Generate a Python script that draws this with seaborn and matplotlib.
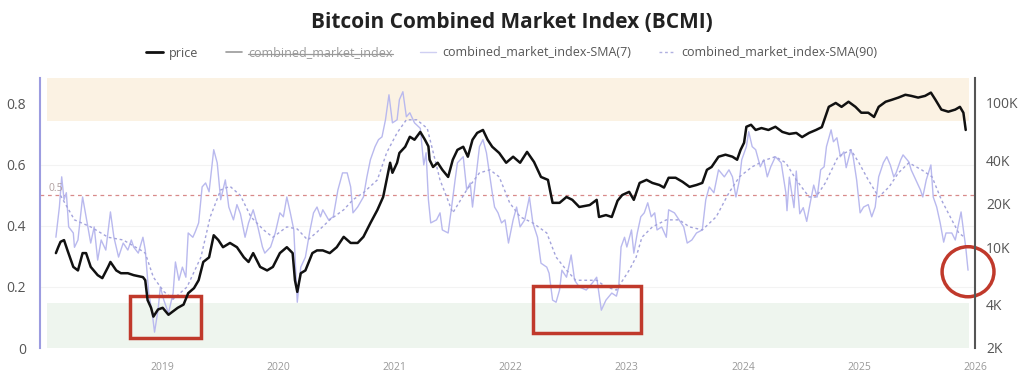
import matplotlib
matplotlib.use("Agg")
import matplotlib.pyplot as plt
import seaborn as sns
import pandas as pd
from matplotlib.patches import Rectangle, Ellipse
from matplotlib.lines import Line2D

# dados (anos decimais)
price_year = [2018.08, 2018.10, 2018.12, 2018.15, 2018.18, 2018.23, 2018.27, 2018.31, 2018.34, 2018.38,
              2018.44, 2018.48, 2018.53, 2018.55, 2018.60, 2018.64, 2018.70, 2018.75, 2018.83, 2018.85,
              2018.87, 2018.90, 2018.92, 2018.96, 2019.00, 2019.05, 2019.13, 2019.18, 2019.22, 2019.27,
              2019.31, 2019.35, 2019.40, 2019.44, 2019.48, 2019.52, 2019.58, 2019.64, 2019.70, 2019.74,
              2019.78, 2019.84, 2019.90, 2019.95, 2020.01, 2020.07, 2020.12, 2020.14, 2020.16, 2020.19,
              2020.23, 2020.29, 2020.33, 2020.38, 2020.44, 2020.50, 2020.56, 2020.62, 2020.68, 2020.73,
              2020.79, 2020.85, 2020.90, 2020.93, 2020.96, 2020.98, 2021.02, 2021.04, 2021.09, 2021.13,
              2021.17, 2021.22, 2021.26, 2021.29, 2021.30, 2021.33, 2021.37, 2021.41, 2021.46, 2021.50,
              2021.54, 2021.59, 2021.63, 2021.67, 2021.71, 2021.76, 2021.80, 2021.84, 2021.90, 2021.96,
              2022.02, 2022.08, 2022.14, 2022.20, 2022.26, 2022.32, 2022.36, 2022.42, 2022.48, 2022.53,
              2022.59, 2022.68, 2022.74, 2022.76, 2022.82, 2022.87, 2022.92, 2022.96, 2023.02, 2023.06,
              2023.11, 2023.17, 2023.22, 2023.28, 2023.32, 2023.36, 2023.42, 2023.48, 2023.54, 2023.60,
              2023.65, 2023.69, 2023.73, 2023.79, 2023.85, 2023.91, 2023.95, 2023.98, 2024.01, 2024.03,
              2024.07, 2024.11, 2024.16, 2024.22, 2024.28, 2024.34, 2024.40, 2024.46, 2024.51, 2024.57,
              2024.63, 2024.68, 2024.71, 2024.74, 2024.80, 2024.85, 2024.91, 2024.97, 2025.02, 2025.08,
              2025.13, 2025.17, 2025.23, 2025.28, 2025.34, 2025.40, 2025.45, 2025.51, 2025.57, 2025.62,
              2025.66, 2025.71, 2025.77, 2025.83, 2025.87, 2025.90, 2025.92]
price = [9100, 10000, 10900, 11200, 9500, 7300, 6900, 9100, 9100, 7300,
         6400, 6100, 7300, 7900, 6900, 6600, 6600, 6400, 6200, 5900,
         4300, 3800, 3300, 3700, 3800, 3400, 3800, 4000, 4800, 5200,
         5900, 7900, 8500, 12100, 11200, 10000, 10700, 10000, 8500, 7900,
         9100, 7300, 6900, 7300, 9100, 10000, 9100, 5900, 4900, 6600,
         6900, 9100, 9500, 9500, 9100, 10000, 11800, 10700, 10700, 11800,
         14700, 18100, 22300, 29300, 38500, 32800, 38500, 45000, 49700, 58300,
         55600, 63000, 55600, 50000, 40400, 36000, 38500, 34400, 30700, 40400,
         47300, 49700, 42400, 55600, 62000, 65000, 55600, 49700, 45000, 38500,
         42400, 38500, 45800, 39000, 30700, 29300, 20300, 20300, 22300, 21300,
         19000, 19600, 21300, 16200, 16700, 16200, 21000, 23000, 24200, 21300,
         27900, 29300, 27900, 27000, 25900, 30300, 30300, 28400, 26200, 27000,
         27900, 34400, 36000, 42400, 43800, 42400, 40400, 47300, 53000, 68400,
         70600, 65000, 67000, 65000, 68400, 63000, 61000, 62000, 58000, 62000,
         65000, 68000, 80000, 94000, 100000, 94000, 102000, 94000, 85600, 85600,
         80000, 94000, 102000, 105000, 109000, 114000, 112000, 109000, 112000, 118000,
         105000, 90000, 87000, 90000, 94000, 85600, 65000]

sma7_year = [2018.08, 2018.11, 2018.13, 2018.15, 2018.17, 2018.19, 2018.23, 2018.24, 2018.27, 2018.31,
             2018.34, 2018.38, 2018.41, 2018.44, 2018.47, 2018.51, 2018.55, 2018.58, 2018.62, 2018.66,
             2018.70, 2018.73, 2018.75, 2018.79, 2018.83, 2018.85, 2018.88, 2018.91, 2018.93, 2018.96,
             2018.98, 2019.01, 2019.05, 2019.09, 2019.11, 2019.14, 2019.17, 2019.20, 2019.22, 2019.26,
             2019.28, 2019.31, 2019.34, 2019.37, 2019.40, 2019.44, 2019.47, 2019.50, 2019.54, 2019.57,
             2019.61, 2019.64, 2019.67, 2019.71, 2019.74, 2019.78, 2019.82, 2019.86, 2019.88, 2019.93,
             2019.97, 2020.01, 2020.04, 2020.07, 2020.10, 2020.13, 2020.16, 2020.19, 2020.23, 2020.27,
             2020.30, 2020.33, 2020.36, 2020.38, 2020.43, 2020.47, 2020.51, 2020.55, 2020.59, 2020.62,
             2020.64, 2020.68, 2020.73, 2020.76, 2020.79, 2020.83, 2020.86, 2020.89, 2020.92, 2020.95,
             2020.98, 2021.02, 2021.04, 2021.07, 2021.10, 2021.13, 2021.17, 2021.22, 2021.25, 2021.27,
             2021.29, 2021.31, 2021.36, 2021.39, 2021.41, 2021.46, 2021.49, 2021.52, 2021.54, 2021.59,
             2021.62, 2021.65, 2021.67, 2021.71, 2021.73, 2021.76, 2021.79, 2021.84, 2021.86, 2021.89,
             2021.92, 2021.95, 2021.98, 2022.02, 2022.05, 2022.08, 2022.12, 2022.16, 2022.19, 2022.23,
             2022.26, 2022.31, 2022.33, 2022.36, 2022.39, 2022.42, 2022.44, 2022.48, 2022.52, 2022.55,
             2022.59, 2022.65, 2022.70, 2022.74, 2022.78, 2022.82, 2022.87, 2022.91, 2022.93, 2022.95,
             2022.98, 2023.00, 2023.04, 2023.06, 2023.09, 2023.12, 2023.15, 2023.18, 2023.21, 2023.24,
             2023.26, 2023.30, 2023.34, 2023.36, 2023.41, 2023.45, 2023.49, 2023.52, 2023.56, 2023.60,
             2023.65, 2023.68, 2023.71, 2023.75, 2023.79, 2023.84, 2023.88, 2023.91, 2023.94, 2023.97,
             2023.99, 2024.03, 2024.05, 2024.08, 2024.11, 2024.15, 2024.18, 2024.21, 2024.24, 2024.28,
             2024.33, 2024.37, 2024.38, 2024.40, 2024.44, 2024.46, 2024.49, 2024.52, 2024.55, 2024.58,
             2024.61, 2024.64, 2024.67, 2024.70, 2024.72, 2024.76, 2024.78, 2024.81, 2024.84, 2024.87,
             2024.89, 2024.93, 2024.95, 2024.98, 2025.01, 2025.04, 2025.08, 2025.11, 2025.14, 2025.17,
             2025.21, 2025.24, 2025.27, 2025.30, 2025.32, 2025.36, 2025.38, 2025.43, 2025.45, 2025.49,
             2025.53, 2025.55, 2025.58, 2025.62, 2025.64, 2025.67, 2025.70, 2025.73, 2025.75, 2025.80,
             2025.83, 2025.86, 2025.88, 2025.90, 2025.92, 2025.94]
sma7 = [0.363, 0.462, 0.561, 0.486, 0.509, 0.397, 0.377, 0.33, 0.354, 0.495,
        0.430, 0.344, 0.397, 0.288, 0.354, 0.321, 0.446, 0.363, 0.298, 0.344,
        0.321, 0.354, 0.331, 0.311, 0.363, 0.321, 0.180, 0.114, 0.052, 0.124,
        0.200, 0.157, 0.114, 0.180, 0.282, 0.222, 0.265, 0.232, 0.377, 0.363,
        0.380, 0.410, 0.528, 0.541, 0.512, 0.650, 0.607, 0.486, 0.551, 0.462,
        0.420, 0.470, 0.440, 0.363, 0.410, 0.453, 0.397, 0.331, 0.311, 0.331,
        0.377, 0.443, 0.430, 0.495, 0.443, 0.387, 0.150, 0.265, 0.298, 0.387,
        0.443, 0.462, 0.430, 0.453, 0.420, 0.430, 0.518, 0.574, 0.574, 0.528,
        0.443, 0.462, 0.495, 0.561, 0.617, 0.660, 0.683, 0.692, 0.748, 0.830,
        0.738, 0.748, 0.814, 0.840, 0.758, 0.771, 0.738, 0.720, 0.600, 0.640,
        0.486, 0.410, 0.420, 0.443, 0.387, 0.377, 0.462, 0.551, 0.607, 0.627,
        0.518, 0.541, 0.462, 0.594, 0.660, 0.683, 0.640, 0.509, 0.462, 0.443,
        0.410, 0.420, 0.344, 0.420, 0.462, 0.397, 0.420, 0.495, 0.410, 0.363,
        0.278, 0.265, 0.245, 0.157, 0.150, 0.190, 0.255, 0.232, 0.305, 0.222,
        0.200, 0.190, 0.212, 0.232, 0.124, 0.157, 0.180, 0.170, 0.200, 0.331,
        0.363, 0.331, 0.387, 0.311, 0.377, 0.430, 0.443, 0.476, 0.430, 0.443,
        0.387, 0.397, 0.363, 0.453, 0.443, 0.420, 0.397, 0.344, 0.354, 0.377,
        0.387, 0.486, 0.528, 0.509, 0.584, 0.561, 0.584, 0.561, 0.495, 0.551,
        0.617, 0.660, 0.709, 0.660, 0.650, 0.594, 0.617, 0.561, 0.594, 0.627,
        0.607, 0.509, 0.450, 0.560, 0.460, 0.580, 0.440, 0.460, 0.415, 0.476,
        0.534, 0.495, 0.584, 0.594, 0.660, 0.715, 0.676, 0.689, 0.627, 0.643,
        0.591, 0.650, 0.627, 0.551, 0.443, 0.462, 0.470, 0.430, 0.462, 0.561,
        0.607, 0.627, 0.600, 0.561, 0.574, 0.617, 0.633, 0.610, 0.584, 0.551,
        0.518, 0.495, 0.551, 0.600, 0.495, 0.462, 0.410, 0.347, 0.377, 0.377,
        0.354, 0.410, 0.446, 0.387, 0.331, 0.255]

sma90_year = [2018.12, 2018.24, 2018.38, 2018.53, 2018.66, 2018.81, 2018.85, 2018.92, 2019.01, 2019.09,
              2019.21, 2019.33, 2019.41, 2019.50, 2019.58, 2019.67, 2019.76, 2019.87, 2019.95, 2020.07,
              2020.16, 2020.25, 2020.33, 2020.44, 2020.56, 2020.64, 2020.73, 2020.85, 2020.93, 2021.02,
              2021.10, 2021.19, 2021.28, 2021.39, 2021.50, 2021.62, 2021.73, 2021.82, 2021.90, 2021.99,
              2022.08, 2022.19, 2022.31, 2022.39, 2022.48, 2022.56, 2022.74, 2022.82, 2022.91, 2023.02,
              2023.08, 2023.13, 2023.22, 2023.34, 2023.45, 2023.54, 2023.65, 2023.77, 2023.88, 2023.97,
              2024.08, 2024.20, 2024.28, 2024.37, 2024.46, 2024.57, 2024.63, 2024.71, 2024.82, 2024.93,
              2025.00, 2025.08, 2025.17, 2025.26, 2025.34, 2025.43, 2025.54, 2025.63, 2025.71, 2025.80,
              2025.86, 2025.91]
sma90 = [0.500, 0.420, 0.397, 0.363, 0.354, 0.321, 0.311, 0.232, 0.185, 0.160,
         0.200, 0.298, 0.430, 0.518, 0.530, 0.500, 0.430, 0.387, 0.363, 0.397,
         0.390, 0.354, 0.380, 0.420, 0.453, 0.486, 0.509, 0.551, 0.640, 0.705,
         0.748, 0.748, 0.720, 0.551, 0.443, 0.518, 0.574, 0.584, 0.561, 0.476,
         0.430, 0.410, 0.377, 0.298, 0.255, 0.222, 0.222, 0.200, 0.190, 0.255,
         0.298, 0.363, 0.397, 0.420, 0.420, 0.397, 0.387, 0.430, 0.509, 0.561,
         0.594, 0.617, 0.627, 0.607, 0.551, 0.495, 0.495, 0.541, 0.627, 0.650,
         0.607, 0.551, 0.495, 0.528, 0.574, 0.607, 0.584, 0.561, 0.486, 0.420,
         0.377, 0.363]

anos = [2019, 2020, 2021, 2022, 2023, 2024, 2025, 2026]
preco_ticks = [2000, 4000, 10000, 20000, 40000, 100000]
preco_labels = ["2K", "4K", "10K", "20K", "40K", "100K"]

df_preco = pd.DataFrame({"ano": price_year, "price": price})
df_sma7 = pd.DataFrame({"ano": sma7_year, "valor": sma7})
df_sma90 = pd.DataFrame({"ano": sma90_year, "valor": sma90})

sns.set_theme(style="white")
plt.rcParams["font.family"] = ["Open Sans", "DejaVu Sans"]

fig = plt.figure(figsize=(10.24, 3.90), dpi=100)
ax = fig.add_axes([40/1024, 1 - 348/390, 935/1024, 270/390])
ax2 = ax.twinx()

x0, x1 = 2017.943, 2025.985
ax.set_xlim(x0, x1)
ax.set_ylim(0, 0.885)

# faixas
fx0 = (2018.0 - x0)/(x1 - x0)
fx1 = (2025.933 - x0)/(x1 - x0)
ax.axhspan(0.745, 0.885, xmin=fx0, xmax=fx1, color="#fbf2e3", lw=0, zorder=0)
ax.axhspan(0, 0.146, xmin=fx0, xmax=fx1, color="#eef5ee", lw=0, zorder=0)
for v in [0.2, 0.4, 0.6]:
    ax.axhline(v, color="#f3f3f3", lw=0.8, zorder=0)
ax.axhline(0.5, color="#d88a8a", lw=0.9, ls=(0, (3, 3)), zorder=1)
ax.text(2018.02, 0.505, "0.5", color="#b0a0a0", fontsize=7.5, va="bottom")

sns.lineplot(data=df_sma7, x="ano", y="valor", ax=ax, color="#b9b9ee", lw=1.0, zorder=2)
sns.lineplot(data=df_sma90, x="ano", y="valor", ax=ax, color="#a3a3dc", lw=1.0,
             linestyle=(0, (2, 2)), zorder=2)
sns.lineplot(data=df_preco, x="ano", y="price", ax=ax2, color="#111111", lw=1.8, zorder=3)

ax2.set_yscale("log")
ax2.set_ylim(2000, 149000)
ax2.set_yticks(preco_ticks)
ax2.set_yticklabels(preco_labels)
ax2.minorticks_off()

ax.set_xticks(anos)
ax.set_xticklabels([str(a) for a in anos])
ax.set_yticks([0, 0.2, 0.4, 0.6, 0.8])
ax.set_yticklabels(["0", "0.2", "0.4", "0.6", "0.8"])
ax.set_xlabel("")
ax.set_ylabel("")
ax2.set_xlabel("")
ax2.set_ylabel("")
ax.tick_params(axis="x", labelsize=7.5, colors="#999999", length=0, pad=10)
ax.tick_params(axis="y", labelsize=10, labelcolor="#555555", length=0, pad=10)
ax2.tick_params(axis="y", labelsize=10, labelcolor="#555555", length=0, pad=8)

for a in (ax, ax2):
    for s in a.spines.values():
        s.set_visible(False)
ax.spines["left"].set_visible(True)
ax.spines["left"].set_color("#9c9ce0")
ax.spines["left"].set_linewidth(1.5)
ax2.spines["right"].set_visible(True)
ax2.spines["right"].set_color("#555555")
ax2.spines["right"].set_linewidth(1.5)

# marcacoes em vermelho
vermelho = "#c0392b"
ax.add_patch(Rectangle((2018.72, 0.032), 0.61, 0.138, fill=False, ec=vermelho, lw=2.5, zorder=5))
ax.add_patch(Rectangle((2022.19, 0.048), 0.93, 0.155, fill=False, ec=vermelho, lw=2.5, zorder=5))
ax.add_patch(Ellipse((2025.94, 0.25), 0.447, 0.164, fill=False, ec=vermelho, lw=2.5,
                     zorder=5, clip_on=False))

fig.suptitle("Bitcoin Combined Market Index (BCMI)", y=1 - 22/390, va="center",
             fontsize=15, fontweight="bold", color="#222222")

handles = [Line2D([], [], color="#111111", lw=2),
           Line2D([], [], color="#999999", lw=1.2),
           Line2D([], [], color="#cfcff2", lw=1),
           Line2D([], [], color="#b0b0e0", lw=1, ls=(0, (2, 2)))]
labels = ["price", "combined_market_index", "combined_market_index-SMA(7)",
          "combined_market_index-SMA(90)"]
leg = fig.legend(handles, labels, loc="center", bbox_to_anchor=(0.5, 1 - 53/390), ncol=4,
                 frameon=False, fontsize=9, handlelength=1.3, handletextpad=0.5,
                 columnspacing=2.2)
for t in leg.get_texts():
    t.set_color("#555555")
leg.get_texts()[1].set_color("#999999")

# risco sobre a serie oculta na legenda
fig.canvas.draw()
bb = leg.get_texts()[1].get_window_extent()
inv = fig.transFigure.inverted()
(lx0, ly0), (lx1, ly1) = inv.transform([(bb.x0, bb.y0), (bb.x1, bb.y1)])
ym = ly0 + (ly1 - ly0) * 0.45
fig.add_artist(Line2D([lx0, lx1], [ym, ym], color="#999999", lw=0.9, transform=fig.transFigure))

fig.savefig("out.png", dpi=100)
